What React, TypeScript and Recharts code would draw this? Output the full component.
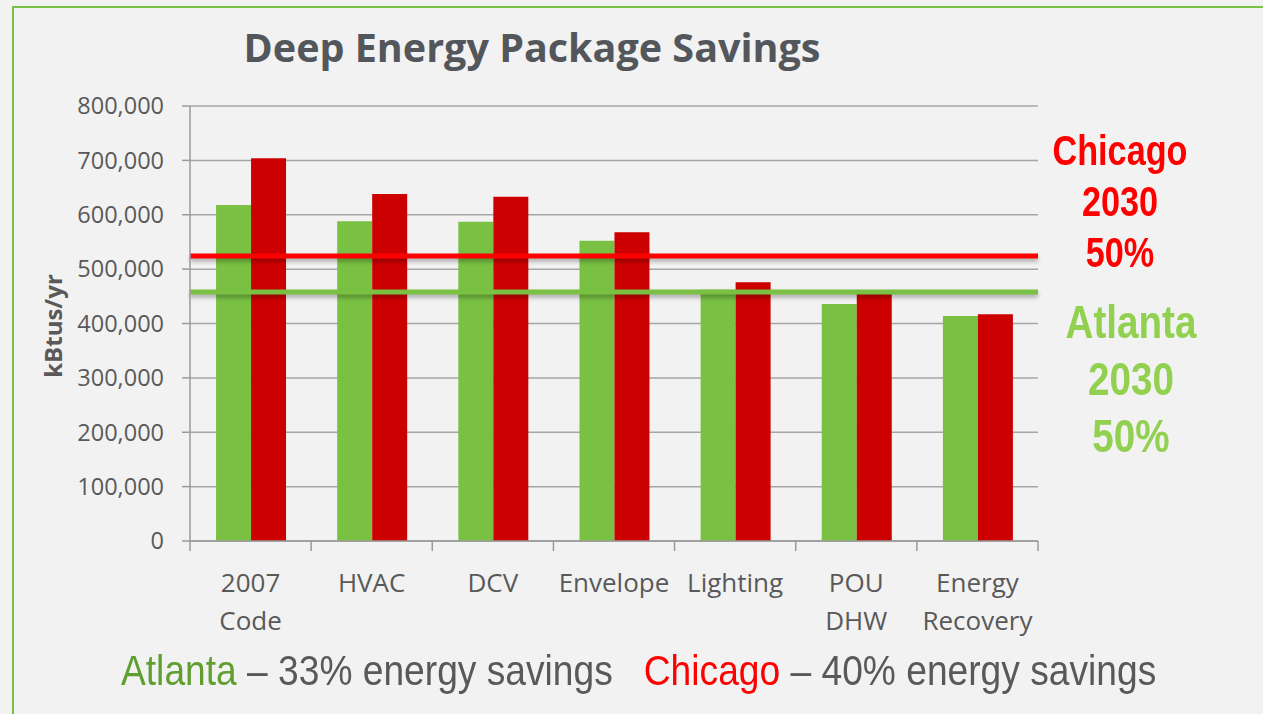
import React from 'react';
import { BarChart, Bar, XAxis, YAxis, CartesianGrid, ReferenceLine } from 'recharts';

const categories = ['2007\nCode', 'HVAC', 'DCV', 'Envelope', 'Lighting', 'POU\nDHW', 'Energy\nRecovery'];
const atlantaValues = [618000, 588000, 587000, 552000, 462000, 436000, 414000];
const chicagoValues = [704000, 638000, 633000, 568000, 476000, 460000, 417000];
const yTicks = [0, 100000, 200000, 300000, 400000, 500000, 600000, 700000, 800000];
const chicagoTarget = 524000;
const atlantaTarget = 458000;

const data = categories.map((c, i) => ({ name: c, atlanta: atlantaValues[i], chicago: chicagoValues[i] }));

const CHART_W = 1263;
const CHART_H = 714;
const MARGIN = { top: 106, right: 225, left: 0, bottom: 0 };
const Y_AXIS_W = 190;
const BAND = (CHART_W - MARGIN.left - MARGIN.right - Y_AXIS_W) / categories.length;

const GREEN = '#7ac143';
const RED_BAR = '#cc0000';
const RED = '#ff0000';
const TEXT = '#595959';
const AXIS = '#9a9a9a';

const CatTick = (props: any) => {
  const { x, y, payload, index } = props;
  const lines = String(payload.value).split('\n');
  const isLast = index === categories.length - 1;
  return (
    <g>
      <line x1={x - BAND / 2} x2={x - BAND / 2} y1={y} y2={y + 10} stroke={AXIS} strokeWidth={1.5} />
      {isLast && <line x1={x + BAND / 2} x2={x + BAND / 2} y1={y} y2={y + 10} stroke={AXIS} strokeWidth={1.5} />}
      <text x={x} y={y} textAnchor="middle" fill={TEXT} fontFamily="Open Sans" fontSize={26}>
        {lines.map((l, i) => (
          <tspan key={i} x={x} dy={i === 0 ? 51 : 38}>{l}</tspan>
        ))}
      </text>
    </g>
  );
};

const shadow = { filter: 'drop-shadow(0px 3px 2px rgba(0,0,0,0.3))' };

export default function App() {
  return (
    <div style={{ position: 'fixed', left: 0, top: 0, width: 1263, height: 714, background: '#f2f2f2', overflow: 'hidden' }}>
      <div style={{ position: 'absolute', left: 12, top: 6, width: 1300, height: 800, border: `2px solid ${GREEN}`, boxSizing: 'border-box' }} />
      <div style={{ position: 'absolute', left: 0, top: 0 }}>
        <BarChart width={CHART_W} height={CHART_H} data={data} margin={MARGIN} barCategoryGap="21.5%" barGap={0}>
          <CartesianGrid horizontal vertical={false} stroke="#a6a6a6" strokeWidth={1.5} />
          <XAxis dataKey="name" tick={<CatTick />} tickLine={false} axisLine={{ stroke: AXIS, strokeWidth: 1.5 }} tickSize={0} tickMargin={0} height={173} interval={0} />
          <YAxis width={Y_AXIS_W} domain={[0, 800000]} ticks={yTicks} tickFormatter={(v: number) => v.toLocaleString('en-US')} tickSize={8} tickMargin={18} stroke={AXIS} strokeWidth={1.5} tick={{ fill: TEXT, fontFamily: 'Open Sans', fontSize: 23.5 }} interval={0} />
          <Bar dataKey="atlanta" fill={GREEN} isAnimationActive={false} />
          <Bar dataKey="chicago" fill={RED_BAR} isAnimationActive={false} />
          <ReferenceLine y={chicagoTarget} stroke={RED} strokeWidth={5} style={shadow} />
          <ReferenceLine y={atlantaTarget} stroke={GREEN} strokeWidth={5} style={shadow} />
        </BarChart>
      </div>
      <div style={{ position: 'absolute', left: 0, width: 1064, top: 22, textAlign: 'center', fontFamily: 'Open Sans', fontWeight: 700, fontSize: 39.5, color: '#53575c', lineHeight: '50px' }}>
        Deep Energy Package Savings
      </div>
      <div style={{ position: 'absolute', left: 52, top: 326, transform: 'translate(-50%, -50%) rotate(-90deg)', fontFamily: 'Open Sans', fontWeight: 700, fontSize: 24, color: TEXT, whiteSpace: 'nowrap' }}>
        kBtus/yr
      </div>
      <div style={{ position: 'absolute', left: 1020, width: 200, top: 125, textAlign: 'center', fontFamily: 'Liberation Sans, Arial, sans-serif', fontWeight: 700, fontSize: 42, color: RED, lineHeight: '51px', transform: 'scaleX(0.815)', transformOrigin: '50% 0' }}>
        Chicago<br />2030<br />50%
      </div>
      <div style={{ position: 'absolute', left: 1031, width: 200, top: 294, textAlign: 'center', fontFamily: 'Liberation Sans, Arial, sans-serif', fontWeight: 700, fontSize: 46, color: '#92d050', lineHeight: '57px', transform: 'scaleX(0.84)', transformOrigin: '50% 0' }}>
        Atlanta<br />2030<br />50%
      </div>
      <div style={{ position: 'absolute', left: 121, top: 647, whiteSpace: 'pre', fontFamily: 'Liberation Sans, Arial, sans-serif', fontSize: 42, color: TEXT, lineHeight: '48px', transform: 'scaleX(0.885)', transformOrigin: '0 0' }}>
        <span style={{ color: '#5f9f30' }}>Atlanta</span> – 33% energy savings   <span style={{ color: RED }}>Chicago</span> – 40% energy savings
      </div>
    </div>
  );
}
